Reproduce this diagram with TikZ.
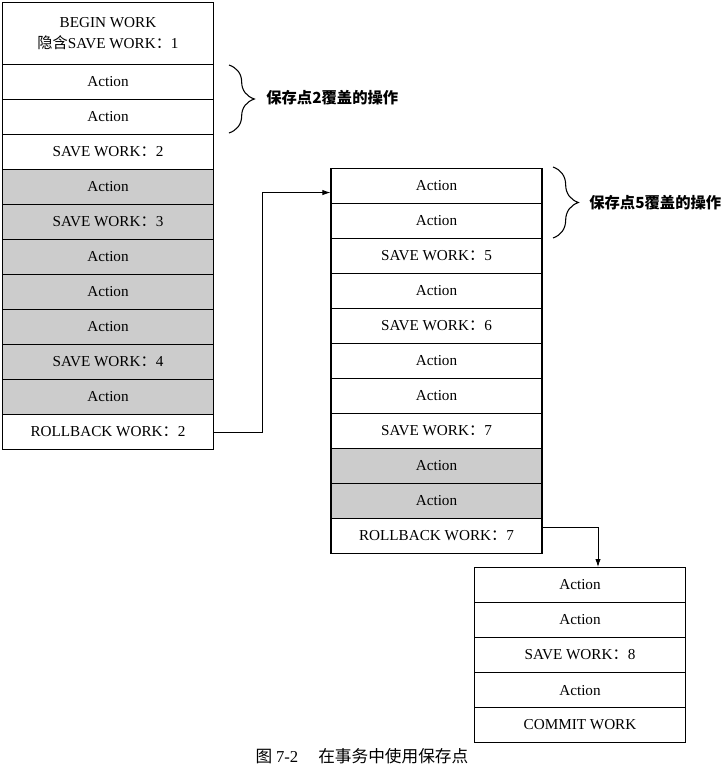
\documentclass[tikz,border=0pt]{standalone}
\usepackage{fontspec}
\setmainfont{Liberation Serif}
\newfontfamily\cjk{Noto Sans CJK SC}
\usetikzlibrary{arrows.meta,calc,decorations.pathreplacing}
\newcommand{\cc}{{\cjk ：}}
\begin{document}
\begin{tikzpicture}[x=0.75pt,y=-0.75pt,
  cell/.style={draw, line width=0.8pt, minimum width=158.25pt, minimum height=26.25pt,
    inner sep=0pt, anchor=north, font=\fontsize{11.4}{13}\selectfont},
  shaded/.style={cell, fill=gray!40},
  arr/.style={-{Latex[length=6pt,width=4pt]}, line width=0.6pt},
  bracestyle/.style={decorate, decoration={brace, amplitude=19pt}, line width=0.8pt},
  lbl/.style={anchor=west, inner sep=0pt, font=\cjk\bfseries\fontsize{11.5}{13}\selectfont}]
\useasboundingbox (0,0) rectangle (727,776);
% left column
\node[cell, minimum height=46.5pt, align=center, font=\fontsize{11.4}{16}\selectfont] (L0) at (108,2) {BEGIN WORK\\{\cjk 隐含}SAVE WORK\cc 1};
\node[cell] (L1) at (108,64) {Action};
\node[cell] (L2) at (108,99) {Action};
\node[cell] (L3) at (108,134) {SAVE WORK\cc 2};
\node[shaded] (L4) at (108,169) {Action};
\node[shaded] (L5) at (108,204) {SAVE WORK\cc 3};
\node[shaded] (L6) at (108,239) {Action};
\node[shaded] (L7) at (108,274) {Action};
\node[shaded] (L8) at (108,309) {Action};
\node[shaded] (L9) at (108,344) {SAVE WORK\cc 4};
\node[shaded] (L10) at (108,379) {Action};
\node[cell] (L11) at (108,414) {ROLLBACK WORK\cc 2};
% middle column
\node[cell] (M1) at (436.5,168) {Action};
\node[cell] (M2) at (436.5,203) {Action};
\node[cell] (M3) at (436.5,238) {SAVE WORK\cc 5};
\node[cell] (M4) at (436.5,273) {Action};
\node[cell] (M5) at (436.5,308) {SAVE WORK\cc 6};
\node[cell] (M6) at (436.5,343) {Action};
\node[cell] (M7) at (436.5,378) {Action};
\node[cell] (M8) at (436.5,413) {SAVE WORK\cc 7};
\node[shaded] (M9) at (436.5,448) {Action};
\node[shaded] (M10) at (436.5,483) {Action};
\node[cell] (M11) at (436.5,518) {ROLLBACK WORK\cc 7};
% right column
\node[cell] (R1) at (580,567) {Action};
\node[cell] (R2) at (580,602) {Action};
\node[cell] (R3) at (580,637) {SAVE WORK\cc 8};
\node[cell] (R4) at (580,672) {Action};
\node[cell] (R5) at (580,707) {COMMIT WORK};
% connectors
\draw[arr] (L11.east) -- ++(48,0) |- ($(M1.west)+(0,6.5)$);
\draw[arr] ($(M11.east)+(0,-8.5)$) -| ($(R1.north)+(18,0)$);
% braces
\draw[bracestyle] (229,65) -- (229,133);
\node[lbl] (B1) at (266,98) {保存点2覆盖的操作};
\draw[bracestyle] (553,167) -- (553,238);
\node[lbl] (B2) at (589,203) {保存点5覆盖的操作};
% caption
\node[font=\cjk\fontsize{12.5}{14}\selectfont] (cap) at (362,756) {图 {\rmfamily 7-2}\hspace{1.2em}在事务中使用保存点};
\end{tikzpicture}
\end{document}
